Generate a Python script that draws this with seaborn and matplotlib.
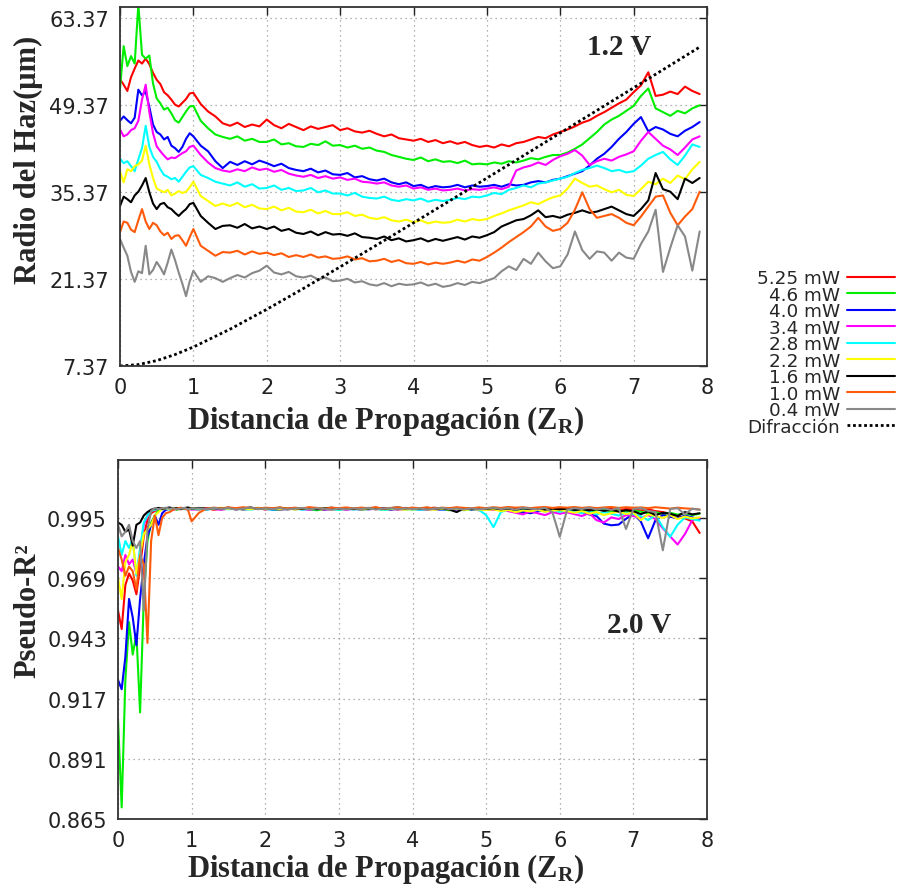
import numpy as np
import pandas as pd
import matplotlib
matplotlib.use('Agg')
import matplotlib.pyplot as plt
import seaborn as sns
from matplotlib.lines import Line2D

# distance grid (Z_R): fine steps up to 1.0, then 0.1
z = np.concatenate([np.arange(0, 1.001, 0.05), np.arange(1.1, 7.95, 0.1)]).round(2)

labels = ['5.25 mW', '4.6 mW', '4.0 mW', '3.4 mW', '2.8 mW', '2.2 mW', '1.6 mW', '1.0 mW', '0.4 mW']
colors = ['#ff0000', '#00ee00', '#0000ff', '#ff00ff', '#00ffff', '#ffff00', '#000000', '#ff5a0a', '#888888']

# beam radius (um) at 1.2 V
r_525 = [53.5, 52.6, 51.6, 53.8, 55.2, 56.5, 56.0, 56.8, 55.9, 54.5, 53.4, 52.7, 51.4, 50.9, 50.2, 49.4, 49.1, 49.7, 50.3, 51.2, 51.3,
         49.5, 48.3, 47.5, 46.4, 46.0, 46.5, 45.8, 46.2, 45.9, 47.0,
         46.1, 45.6, 46.3, 45.8, 45.3, 45.9, 45.5, 45.8, 46.1, 45.3,
         45.6, 45.1, 44.9, 45.2, 44.7, 44.3, 44.6, 44.0, 43.8, 43.6,
         43.9, 43.4, 43.7, 43.2, 43.5, 43.1, 43.4, 42.9, 42.6, 42.8,
         42.5, 43.0, 42.7, 43.2, 43.4, 43.8, 44.2, 44.0, 44.6, 45.0,
         45.4, 45.9, 46.5, 46.9, 47.6, 48.2, 48.9, 49.6, 50.2, 51.4,
         52.5, 54.6, 50.8, 51.0, 51.5, 51.1, 52.3, 51.6, 51.1]
r_46 = [52.0, 58.8, 55.6, 57.2, 56.0, 65.5, 57.4, 56.8, 57.3, 52.8, 50.4, 49.6, 48.6, 48.9, 48.0, 46.9, 46.5, 47.4, 48.3, 49.1, 49.2,
        46.8, 45.6, 44.6, 44.2, 43.9, 44.3, 43.6, 43.9, 43.4, 43.4,
        43.8, 43.0, 43.2, 42.7, 42.6, 43.1, 42.9, 43.5, 42.8, 42.9,
        42.5, 42.8, 42.3, 42.5, 42.0, 41.8, 41.3, 41.0, 40.7, 40.5,
        40.9, 40.3, 40.6, 40.2, 40.3, 40.0, 40.4, 39.8, 39.9, 39.8,
        40.1, 39.9, 40.3, 40.1, 40.4, 40.8, 40.6, 41.0, 41.3, 41.3,
        41.7, 42.3, 43.0, 44.0, 45.0, 46.2, 47.0, 47.6, 48.4, 49.2,
        50.8, 52.0, 48.8, 48.2, 47.6, 48.4, 48.0, 48.8, 49.3]
r_40 = [46.8, 47.5, 46.9, 46.4, 47.3, 51.8, 50.9, 51.5, 49.0, 46.2, 45.0, 44.6, 43.8, 44.2, 42.8, 42.4, 41.8, 42.6, 43.9, 44.8, 44.3,
        42.8, 41.9, 40.3, 39.2, 40.2, 39.7, 40.3, 39.8, 40.4, 40.0,
        39.5, 39.9, 39.2, 38.9, 38.7, 39.1, 38.5, 38.8, 38.2, 38.1,
        38.4, 37.7, 37.9, 37.4, 37.2, 37.5, 36.9, 36.6, 36.9, 36.3,
        36.5, 36.0, 36.3, 36.1, 36.2, 36.5, 36.1, 36.4, 36.2, 36.3,
        36.5, 36.2, 36.6, 36.4, 36.5, 36.9, 37.1, 36.9, 37.3, 37.5,
        37.9, 38.3, 38.7, 39.6, 40.7, 41.5, 42.6, 43.9, 45.0, 46.3,
        47.4, 45.1, 45.8, 45.4, 44.7, 44.3, 45.2, 45.8, 46.6]
r_34 = [45.4, 44.3, 44.6, 45.3, 45.6, 46.8, 50.2, 52.6, 48.2, 44.8, 42.7, 41.9, 41.2, 40.6, 40.9, 40.8, 41.2, 41.6, 41.9, 42.6, 42.8,
        41.3, 40.1, 39.2, 38.8, 38.6, 39.0, 38.7, 39.3, 38.9, 39.1,
        38.6, 38.9, 38.3, 38.0, 37.8, 38.1, 37.6, 37.9, 37.5, 37.7,
        37.3, 37.5, 37.0, 36.9, 36.7, 36.9, 36.4, 36.2, 36.4, 35.9,
        36.1, 35.7, 35.9, 35.6, 35.7, 35.9, 35.6, 35.8, 35.7, 35.9,
        36.1, 35.8, 36.2, 38.8, 39.3, 39.6, 40.1, 39.7, 40.5, 41.1,
        41.5, 42.1, 41.2, 39.7, 40.3, 40.7, 40.4, 41.0, 41.4, 41.9,
        43.6, 45.0, 43.9, 42.8, 42.2, 41.3, 42.5, 43.8, 44.3]
r_28 = [40.7, 40.0, 40.3, 39.5, 38.7, 40.6, 42.4, 46.0, 42.6, 41.0, 40.2, 39.0, 38.1, 37.8, 37.4, 37.6, 37.0, 37.8, 38.6, 39.3, 39.5,
        38.1, 37.6, 37.0, 36.7, 36.4, 36.9, 36.2, 36.6, 35.9, 36.0,
        36.4, 35.7, 36.0, 35.5, 35.6, 36.0, 35.3, 35.6, 35.1, 35.1,
        34.8, 35.2, 34.6, 34.4, 34.3, 34.6, 34.1, 33.9, 34.2, 34.0,
        34.3, 33.8, 34.1, 33.9, 34.1, 34.4, 34.2, 34.6, 34.5, 34.8,
        35.2, 35.0, 35.7, 36.0, 36.4, 36.1, 36.7, 36.9, 37.2, 37.5,
        37.8, 38.4, 38.9, 39.2, 39.6, 39.2, 38.7, 38.9, 38.5, 38.7,
        39.6, 40.7, 41.3, 41.8, 40.6, 39.7, 41.2, 43.0, 42.6]
r_22 = [38.6, 36.9, 39.0, 38.7, 39.5, 39.8, 40.4, 42.8, 39.8, 37.6, 35.9, 35.6, 35.3, 35.7, 34.8, 35.1, 35.5, 35.2, 35.4, 36.1, 37.0,
        34.7, 33.9, 33.1, 33.5, 33.1, 33.6, 32.9, 33.3, 32.7, 32.6,
        33.0, 32.4, 32.8, 32.2, 32.1, 32.5, 31.9, 32.3, 31.8, 31.8,
        32.1, 31.5, 31.7, 31.2, 31.0, 31.3, 30.8, 30.6, 30.9, 30.5,
        30.8, 30.3, 30.6, 30.4, 30.5, 30.9, 30.6, 31.0, 30.8, 31.0,
        31.5, 31.9, 32.4, 32.8, 33.2, 33.7, 33.4, 34.0, 34.5, 34.8,
        35.9, 37.5, 36.8, 36.2, 36.4, 35.8, 35.3, 35.7, 34.9, 34.7,
        35.8, 37.0, 36.6, 37.5, 36.8, 38.0, 37.4, 39.0, 40.2]
r_16 = [33.1, 34.6, 34.2, 33.7, 34.8, 35.4, 36.4, 37.6, 35.3, 33.5, 32.6, 33.4, 33.6, 32.9, 32.6, 32.0, 31.5, 32.1, 32.6, 33.4, 33.6,
        31.5, 30.4, 29.4, 29.9, 30.0, 29.6, 30.2, 29.5, 29.8, 29.4,
        29.8, 29.1, 29.4, 28.8, 28.6, 29.0, 28.4, 28.9, 28.5, 28.6,
        28.3, 28.7, 28.1, 28.0, 27.8, 28.2, 27.6, 27.9, 27.4, 27.6,
        27.9, 27.4, 27.8, 27.5, 27.8, 28.1, 27.7, 28.2, 28.0, 28.4,
        28.9, 29.8, 30.3, 30.8, 31.0, 31.6, 32.4, 31.3, 31.5, 31.2,
        31.7, 32.0, 32.4, 32.0, 32.2, 32.6, 33.0, 32.4, 31.8, 31.5,
        32.6, 34.0, 38.4, 35.8, 35.4, 34.2, 37.5, 36.8, 37.6]
r_10 = [28.9, 30.6, 30.4, 29.3, 28.9, 30.8, 32.6, 30.6, 29.4, 30.4, 30.0, 29.0, 28.4, 28.8, 27.8, 28.3, 28.4, 27.6, 26.7, 28.1, 29.4,
        26.7, 25.9, 25.1, 25.7, 25.6, 25.9, 25.3, 25.8, 25.4, 25.6,
        25.2, 25.5, 24.9, 25.2, 24.9, 25.3, 24.8, 25.0, 24.6, 24.7,
        25.0, 24.5, 24.7, 24.2, 24.3, 24.6, 24.1, 24.4, 23.9, 23.8,
        24.1, 23.7, 24.0, 23.8, 24.0, 24.3, 24.0, 24.5, 24.3, 24.9,
        25.6, 26.4, 27.3, 28.1, 28.9, 29.8, 31.2, 29.8, 29.1, 29.4,
        30.4, 32.5, 35.3, 32.6, 31.2, 31.5, 31.8, 31.2, 30.4, 30.0,
        31.4, 33.0, 34.6, 34.8, 32.0, 30.0, 31.4, 32.6, 35.4]
r_04 = [27.8, 26.4, 25.1, 22.5, 20.9, 22.6, 22.3, 26.7, 22.1, 22.8, 24.1, 23.2, 22.1, 24.0, 26.1, 24.4, 22.4, 20.6, 18.6, 21.0, 22.7,
        20.9, 21.8, 21.5, 20.9, 21.5, 22.0, 21.6, 22.3, 22.7, 23.5,
        22.4, 22.1, 22.5, 21.8, 21.6, 21.9, 21.3, 21.6, 21.0, 21.1,
        21.4, 20.8, 21.0, 20.5, 20.3, 20.7, 20.2, 20.6, 20.4, 20.5,
        20.8, 20.3, 20.6, 20.1, 20.3, 20.7, 20.4, 20.9, 20.7, 21.1,
        21.5, 22.6, 23.4, 22.8, 24.6, 23.8, 25.6, 24.2, 23.1, 23.4,
        25.3, 29.0, 26.0, 24.6, 25.8, 25.6, 24.3, 25.6, 24.8, 24.6,
        27.0, 29.0, 32.5, 22.5, 26.4, 30.0, 28.2, 22.7, 29.0]
radio = [r_525, r_46, r_40, r_34, r_28, r_22, r_16, r_10, r_04]

# diffraction-limited beam radius
dif_z = [0, 0.25, 0.5, 0.75, 1, 1.5, 2, 2.5, 3, 3.5, 4, 4.5, 5, 5.5, 6, 6.5, 7, 7.5, 7.9]
dif_w = [7.37, 7.60, 8.24, 9.21, 10.42, 13.29, 16.48, 19.84, 23.31, 26.83, 30.39, 33.98,
         37.59, 41.20, 44.84, 48.47, 52.10, 55.74, 58.66]

# pseudo-R2 at 2.0 V
p_525 = [.955, .947, .966, .971, .968, .962, .974, .987, .994, .997, .998, .9988, .9992, .9986, .9990, .9993, .9987, .9991, .9989, .9993, .9988,
         .9988, .9992, .9985, .9990, .9994, .9987, .9991, .9989, .9993, .9986,
         .9990, .9993, .9987, .9991, .9988, .9994, .9989, .9986, .9991, .9988,
         .9992, .9987, .9990, .9993, .9988, .9991, .9986, .9990, .9993, .9989,
         .9987, .9991, .9994, .9988, .9990, .9986, .9992, .9989, .9985, .9990,
         .9991, .9988, .9993, .9990, .9987, .9992, .9989, .9986, .9990, .9988,
         .9991, .9987, .9990, .9985, .9989, .9986, .9990, .9984, .9988, .9986,
         .9982, .9987, .9979, .9975, .9968, .9960, .9948, .9935, .9885]
p_46 = [.908, .870, .925, .950, .936, .945, .911, .960, .985, .993, .996, .9983, .9988, .9991, .9987, .9990, .9985, .9989, .9992, .9987, .9990,
        .9986, .9990, .9993, .9987, .9989, .9992, .9985, .9990, .9988, .9991,
        .9987, .9984, .9990, .9988, .9992, .9986, .9983, .9989, .9991, .9985,
        .9989, .9992, .9986, .9988, .9991, .9984, .9989, .9987, .9990, .9986,
        .9989, .9985, .9990, .9987, .9983, .9988, .9991, .9986, .9989, .9985,
        .9988, .9984, .9989, .9980, .9972, .9976, .9983, .9978, .9985, .9981,
        .9986, .9979, .9984, .9977, .9982, .9986, .9978, .9983, .9975, .9981,
        .9977, .9970, .9975, .9966, .9972, .9964, .9970, .9962, .9968]
p_40 = [.925, .921, .935, .960, .952, .940, .960, .975, .987, .992, .996, .992, .997, .9985, .9990, .9987, .9992, .9988, .9991, .9986, .9990,
        .9990, .9986, .9991, .9988, .9992, .9987, .9990, .9993, .9988, .9991,
        .9985, .9989, .9992, .9987, .9990, .9988, .9993, .9986, .9989, .9991,
        .9987, .9990, .9985, .9991, .9988, .9992, .9986, .9989, .9987, .9990,
        .9986, .9990, .9988, .9984, .9989, .9987, .9991, .9985, .9988, .9986,
        .9989, .9983, .9987, .9980, .9976, .9970, .9978, .9984, .9979, .9982,
        .9977, .9981, .9972, .9965, .9958, .9925, .9918, .9921, .9946, .9968,
        .9935, .9862, .9940, .9962, .9955, .9948, .9960, .9952, .9945]
p_34 = [.974, .972, .979, .975, .977, .971, .980, .992, .996, .998, .9985, .9990, .9987, .9991, .9988, .9985, .9990, .9987, .9991, .9988, .9986,
        .9987, .9991, .9988, .9985, .9990, .9992, .9986, .9989, .9991, .9987,
        .9991, .9986, .9988, .9993, .9987, .9985, .9990, .9988, .9986, .9990,
        .9985, .9989, .9992, .9986, .9990, .9987, .9991, .9985, .9988, .9990,
        .9988, .9985, .9989, .9986, .9990, .9984, .9987, .9989, .9983, .9987,
        .9984, .9988, .9979, .9972, .9965, .9978, .9970, .9962, .9975, .9968,
        .9974, .9966, .9958, .9971, .9940, .9930, .9952, .9945, .9962, .9958,
        .9950, .9962, .9945, .9905, .9870, .9835, .9880, .9940, .9950]
p_28 = [.987, .979, .985, .982, .986, .970, .982, .993, .996, .998, .9985, .9990, .9987, .9991, .9986, .9990, .9988, .9992, .9987, .9990, .9988,
        .9989, .9986, .9990, .9992, .9987, .9990, .9988, .9985, .9991, .9988,
        .9986, .9990, .9987, .9991, .9985, .9989, .9987, .9992, .9988, .9985,
        .9990, .9986, .9989, .9987, .9991, .9984, .9988, .9990, .9986, .9989,
        .9985, .9988, .9990, .9986, .9989, .9987, .9983, .9988, .9985, .9962,
        .9910, .9975, .9986, .9982, .9987, .9980, .9984, .9978, .9983, .9976,
        .9982, .9977, .9970, .9979, .9965, .9975, .9968, .9960, .9972, .9966,
        .9958, .9940, .9962, .9910, .9868, .9920, .9952, .9945, .9938]
p_22 = [.969, .960, .976, .979, .985, .971, .979, .988, .990, .992, .996, .9975, .9988, .9992, .9989, .9993, .9990, .9987, .9992, .9989, .9991,
        .9992, .9988, .9991, .9994, .9989, .9992, .9990, .9987, .9993, .9989,
        .9992, .9988, .9991, .9986, .9990, .9993, .9988, .9991, .9987, .9990,
        .9988, .9992, .9986, .9990, .9993, .9987, .9991, .9988, .9985, .9989,
        .9991, .9987, .9985, .9990, .9986, .9989, .9983, .9988, .9986, .9984,
        .9987, .9979, .9984, .9975, .9982, .9978, .9985, .9977, .9981, .9984,
        .9979, .9972, .9980, .9968, .9975, .9962, .9970, .9978, .9967, .9973,
        .9940, .9965, .9958, .9950, .9962, .9945, .9956, .9948, .9952]
p_16 = [.993, .992, .989, .990, .983, .992, .993, .996, .9975, .9985, .9990, .9993, .9989, .9992, .9995, .9990, .9993, .9988, .9992, .9995, .9990,
        .9993, .9989, .9992, .9990, .9994, .9988, .9991, .9995, .9989, .9992,
        .9990, .9994, .9988, .9992, .9989, .9993, .9987, .9991, .9994, .9989,
        .9992, .9988, .9993, .9990, .9994, .9989, .9992, .9995, .9991, .9993,
        .9990, .9994, .9988, .9992, .9986, .9975, .9991, .9988, .9993, .9989,
        .9992, .9987, .9990, .9985, .9991, .9988, .9992, .9986, .9990, .9987,
        .9990, .9984, .9988, .9982, .9987, .9980, .9985, .9977, .9983, .9979,
        .9966, .9978, .9962, .9972, .9968, .9958, .9975, .9965, .9970]
p_10 = [.982, .977, .970, .974, .972, .964, .979, .975, .941, .985, .996, .9875, .995, .9970, .9975, .9985, .9990, .9994, .9991, .9985, .9935,
        .9972, .9990, .9994, .9991, .9995, .9992, .9996, .9993, .9990, .9994,
        .9992, .9995, .9990, .9994, .9991, .9996, .9993, .9989, .9994, .9992,
        .9995, .9991, .9994, .9992, .9996, .9990, .9993, .9995, .9991, .9994,
        .9992, .9995, .9990, .9994, .9992, .9996, .9993, .9991, .9995, .9992,
        .9996, .9993, .9997, .9994, .9996, .9992, .9995, .9997, .9993, .9996,
        .9994, .9997, .9993, .9996, .9992, .9995, .9997, .9993, .9996, .9994,
        .9995, .9992, .9996, .9993, .9990, .9994, .9991, .9989, .9986]
p_04 = [.992, .987, .989, .992, .985, .982, .985, .955, .990, .998, .9992, .9988, .9991, .9994, .9989, .9992, .9987, .9990, .9993, .9988, .9991,
        .9991, .9987, .9993, .9989, .9992, .9986, .9990, .9994, .9988, .9991,
        .9988, .9992, .9986, .9990, .9993, .9987, .9991, .9989, .9985, .9990,
        .9987, .9991, .9988, .9993, .9986, .9990, .9992, .9987, .9991, .9988,
        .9991, .9986, .9989, .9993, .9988, .9990, .9986, .9991, .9987, .9990,
        .9994, .9988, .9992, .9985, .9994, .9990, .9987, .9993, .9975, .9868,
        .9985, .9992, .9988, .9994, .9986, .9991, .9984, .9993, .9902, .9988,
        .9993, .9980, .9975, .9810, .9988, .9992, .9965, .9990, .9985]
pseudo = [p_525, p_46, p_40, p_34, p_28, p_22, p_16, p_10, p_04]

y1_ticks = [7.37, 21.37, 35.37, 49.37, 63.37]
y2_ticks = [0.865, 0.891, 0.917, 0.943, 0.969, 0.995]
x_ticks = [0, 1, 2, 3, 4, 5, 6, 7, 8]

# long-form tables for seaborn
df_top = pd.concat([pd.DataFrame({'z': z, 'radio': v, 'potencia': lab}) for lab, v in zip(labels, radio)], ignore_index=True)
df_bot = pd.concat([pd.DataFrame({'z': z, 'r2': v, 'potencia': lab}) for lab, v in zip(labels, pseudo)], ignore_index=True)
palette = dict(zip(labels, colors))

sns.set_style('white')
plt.rcParams['font.family'] = ['DejaVu Sans']
plt.rcParams['mathtext.fontset'] = 'custom'
plt.rcParams['mathtext.rm'] = 'Liberation Serif:bold'
plt.rcParams['mathtext.it'] = 'Liberation Serif:bold'
plt.rcParams['mathtext.bf'] = 'Liberation Serif:bold'

fig = plt.figure(figsize=(8.98, 8.95), dpi=100)
ax1 = fig.add_axes([120 / 898, 1 - 367 / 895, 587 / 898, 359 / 895])
ax2 = fig.add_axes([118 / 898, 1 - 820 / 895, 589 / 898, 359.5 / 895])

sns.lineplot(data=df_top, x='z', y='radio', hue='potencia', hue_order=labels, palette=palette,
             estimator=None, sort=False, legend=False, linewidth=1.5, ax=ax1)
sns.lineplot(x=dif_z, y=dif_w, color='black', linestyle=(0, (1, 1)), linewidth=2.0, ax=ax1)
sns.lineplot(data=df_bot, x='z', y='r2', hue='potencia', hue_order=labels, palette=palette,
             estimator=None, sort=False, legend=False, linewidth=1.5, ax=ax2)

serif = dict(fontfamily='Liberation Serif', fontweight='bold')
for ax in (ax1, ax2):
    ax.set_xlim(0, 8)
    ax.set_xticks(x_ticks)
    ax.tick_params(direction='in', length=6, width=1, top=True, right=True,
                   labelsize=15, pad=8, colors='#222222')
    ax.grid(True, linestyle=(0, (1, 3)), color='#999999', linewidth=0.9)
    for sp in ax.spines.values():
        sp.set_linewidth(1.3)
        sp.set_color('#333333')
    ax.set_xlabel(r'Distancia de Propagación $(\mathrm{Z_R})$', fontsize=22, **serif)
    ax.xaxis.label.set_verticalalignment('center')

ax1.set_ylim(7.37, 65.1)
ax1.set_yticks(y1_ticks)
ax1.set_yticklabels([f'{v:.2f}' for v in y1_ticks])
ax1.set_ylabel('Radio del Haz(μm)', fontsize=22, **serif)
ax1.yaxis.label.set_verticalalignment('center')
ax1.xaxis.set_label_coords((386 - 120) / 587, (367 - 421) / 359)
ax1.yaxis.set_label_coords((28 - 120) / 587, 0.577)
ax1.text(6.81, 58.7, '1.2 V', fontsize=21, ha='center', va='center', **serif)

ax2.set_ylim(0.865, 1.0202)
ax2.set_yticks(y2_ticks)
ax2.set_yticklabels([f'{v:.3f}' for v in y2_ticks])
ax2.set_ylabel('Pseudo-R²', fontsize=22, **serif)
ax2.yaxis.label.set_verticalalignment('center')
ax2.xaxis.set_label_coords((386 - 118) / 589, (820 - 869) / 359.5)
ax2.yaxis.set_label_coords((28 - 118) / 589, 0.582)
ax2.text(7.08, 0.9488, '2.0 V', fontsize=21, ha='center', va='center', **serif)

handles = [Line2D([], [], color=c, linewidth=1.5) for c in colors]
handles.append(Line2D([], [], color='black', linestyle=(0, (1, 1)), linewidth=2.0))
fig.legend(handles, labels + ['Difracción'], loc='upper right', bbox_to_anchor=(895 / 898, 1 - 270 / 895),
           frameon=False, markerfirst=False, fontsize=13.2, handlelength=2.6, handletextpad=0.4,
           labelspacing=-0.08, borderpad=0, borderaxespad=0)

fig.savefig('out.png', dpi=100)
